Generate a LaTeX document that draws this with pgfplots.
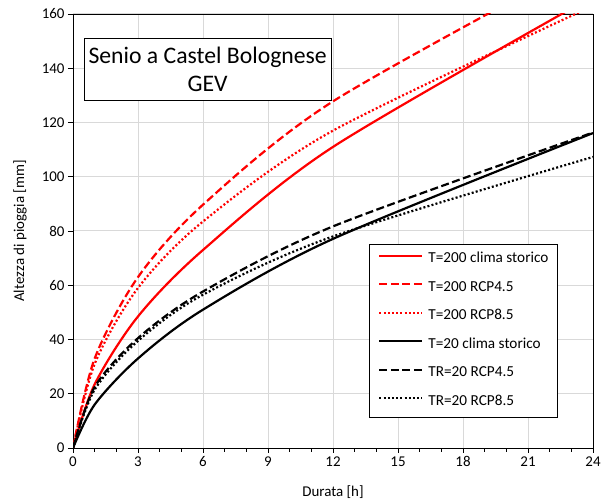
\documentclass[border=0pt]{standalone}
\usepackage{fontspec}
\setmainfont{Carlito}
\usepackage{pgfplots}
\pgfplotsset{compat=1.18}
\definecolor{gridgray}{RGB}{217,217,217}
\begin{document}
\begin{tikzpicture}
\useasboundingbox (0,0) rectangle (613bp,503bp);
\begin{axis}[
  at={(73bp,55bp)}, anchor=south west,
  scale only axis, width=520bp, height=434bp,
  xmin=0, xmax=24, ymin=0, ymax=160,
  xtick={0,3,...,24}, ytick={0,20,...,160},
  minor x tick num=2,
  tick align=outside, tick pos=left,
  major tick length=5bp, minor tick length=4bp,
  grid=major, major grid style={color=gridgray, line width=1bp},
  axis line style={line width=0.9bp},
  every tick/.style={black, line width=0.9bp},
  /pgf/number format/assume math mode=true,
  tick label style={font=\fontsize{15}{17}\selectfont},
  label style={font=\fontsize{15}{17}\selectfont},
  xlabel={Durata [h]}, ylabel={Altezza di pioggia [mm]},
  xlabel style={at={(axis description cs:0.5,-0.101)}, anchor=center},
  ylabel style={at={(axis description cs:-0.102,0.5)}, anchor=center},
  legend cell align=left,
  legend image code/.code={\draw[#1] (0bp,3.5bp) -- (43bp,3.5bp);},
  legend style={at={(rel axis cs:0.569,0.470)}, anchor=north west,
    draw=black, line width=0.75bp, fill=white,
    font=\fontsize{15.3}{17}\selectfont,
    nodes={inner sep=0pt, text height=10.5bp, text depth=3.5bp},
    row sep=14.5bp, inner xsep=9bp, inner ysep=8bp,
    /tikz/every odd column/.append style={column sep=5bp}},
]
\addplot[red, line width=2.2bp, smooth] coordinates {(0,0) (1,23.5) (3,48.5) (6,73) (12,111) (24,166.5)};
\addlegendentry{T=200 clima storico}
\addplot[red, line width=2.2bp, smooth, dash pattern=on 8bp off 3.5bp] coordinates {(0,0) (1,33) (3,63) (6,89.7) (12,127.8) (24,181)};
\addlegendentry{T=200 RCP4.5}
\addplot[red, line width=2.2bp, smooth, dash pattern=on 2bp off 2.2bp] coordinates {(0,0) (1,31) (3,59) (6,83.5) (12,117) (24,163)};
\addlegendentry{T=200 RCP8.5}
\addplot[black, line width=2.2bp, smooth] coordinates {(0,0) (1,16) (3,33) (6,51) (12,77.1) (24,116.1)};
\addlegendentry{T=20 clima storico}
\addplot[black, line width=2.2bp, smooth, dash pattern=on 8bp off 3.5bp] coordinates {(0,0) (1,22.5) (3,40.5) (6,57.7) (12,81.7) (24,116.3)};
\addlegendentry{TR=20 RCP4.5}
\addplot[black, line width=2.2bp, smooth, dash pattern=on 2bp off 2.2bp] coordinates {(0,0) (1,21.5) (3,39.5) (6,56.5) (12,78) (24,107.3)};
\addlegendentry{TR=20 RCP8.5}
\node[draw, line width=0.75bp, fill=white, minimum width=247bp, minimum height=62bp,
  align=center, font=\fontsize{23.8}{28.5}\selectfont] at (rel axis cs:0.259,0.873)
  {Senio a Castel Bolognese\\GEV};
\end{axis}
\end{tikzpicture}
\end{document}
